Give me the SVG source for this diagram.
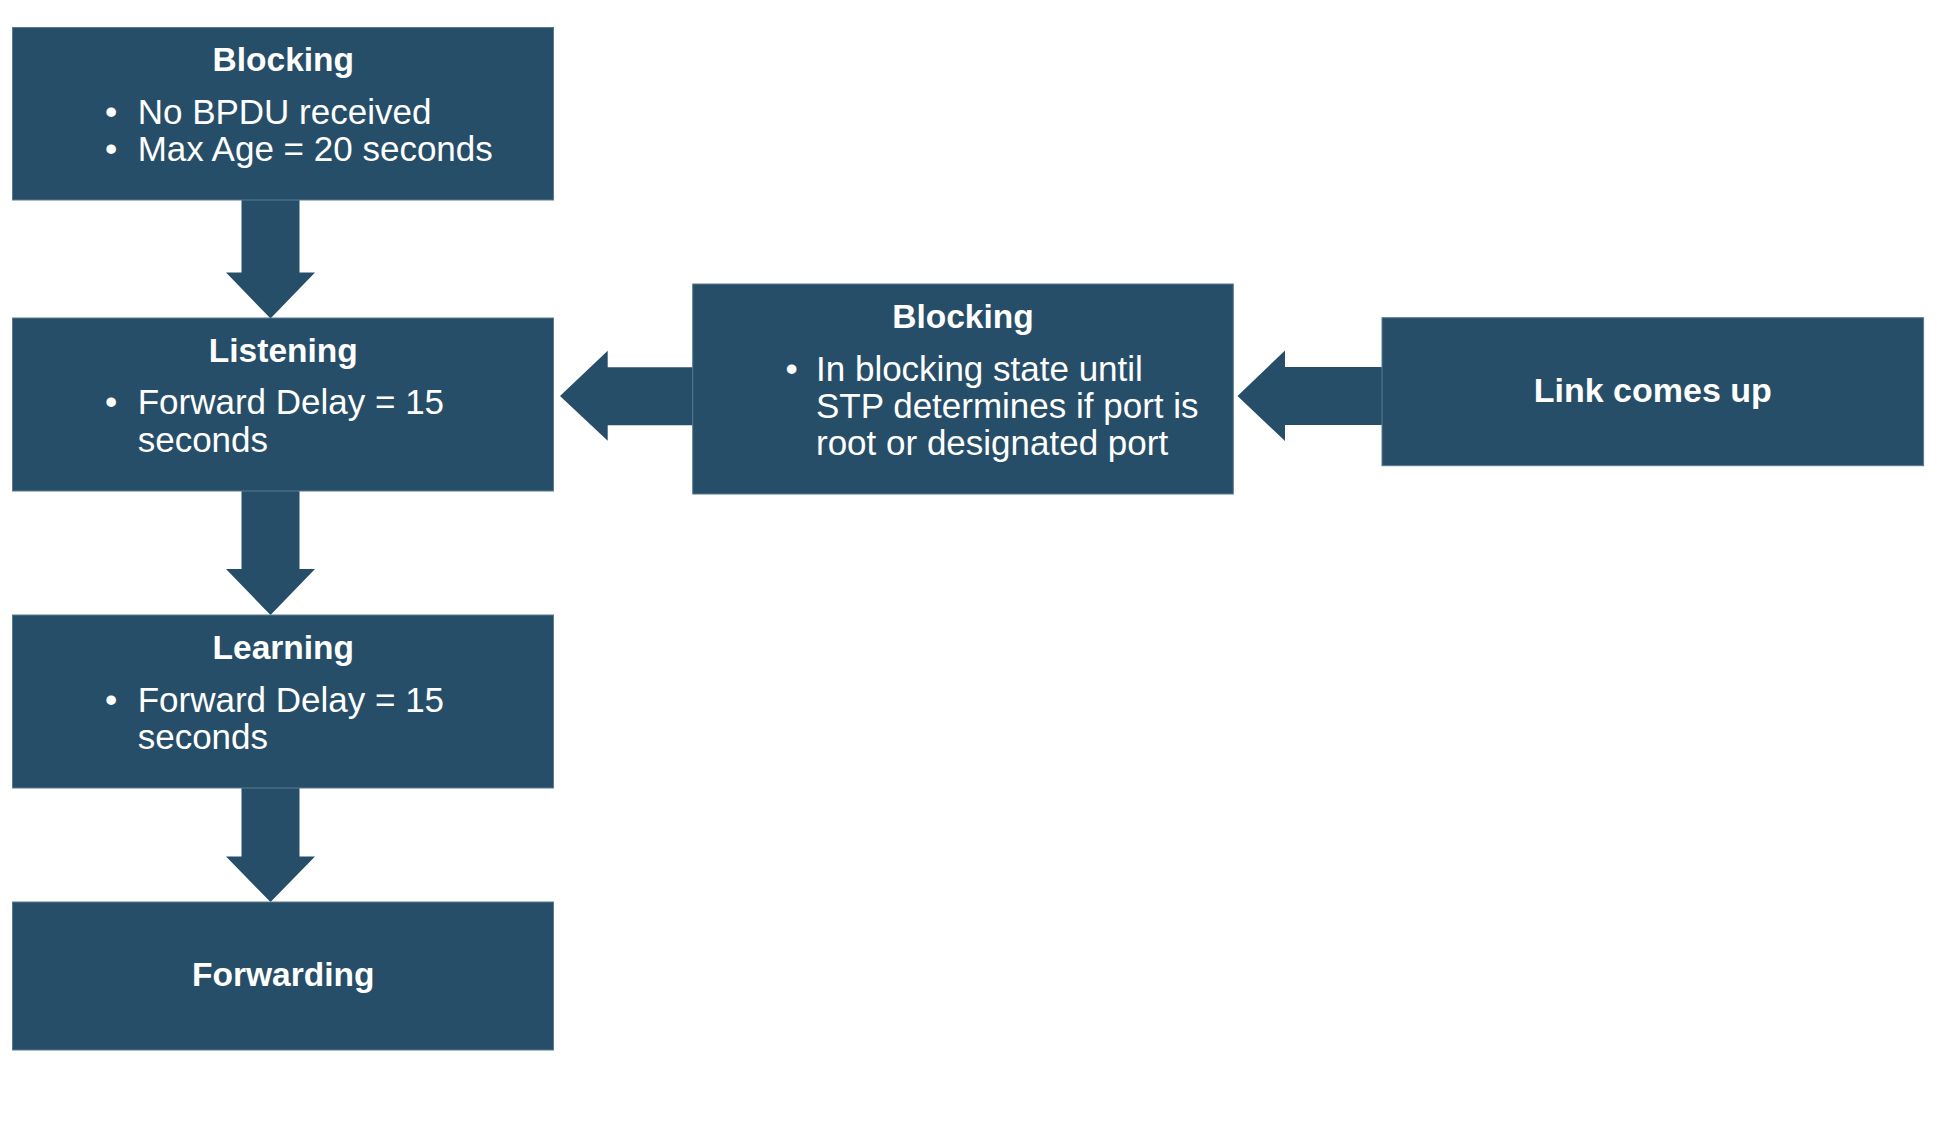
<svg xmlns="http://www.w3.org/2000/svg" width="1954" height="1132" viewBox="0 0 1954 1132">
<style>
.box{fill:#274E68;stroke:#5a7a8f;stroke-width:1}
.arrow{fill:#274E68}
.t{font-family:"Liberation Sans",Arial,sans-serif;font-weight:bold;font-size:33.5px;fill:#ffffff;text-anchor:middle}
.b{font-family:"Liberation Sans",Arial,sans-serif;font-size:35px;fill:#ffffff}
</style>
<rect x="0" y="0" width="1954" height="1132" fill="#ffffff"/>
<g id="connectors">
  <polygon class="arrow" points="241.5,199 299.5,199 299.5,272.5 315,272.5 270.5,318.5 226,272.5 241.5,272.5"/>
  <polygon class="arrow" points="241.5,490 299.5,490 299.5,569 315,569 270.5,615 226,569 241.5,569"/>
  <polygon class="arrow" points="241.5,787 299.5,787 299.5,856.5 315,856.5 270.5,902 226,856.5 241.5,856.5"/>
  <polygon class="arrow" points="693.5,367.3 607.7,367.3 607.7,350.7 560,396 607.7,440.7 607.7,425.3 693.5,425.3"/>
  <polygon class="arrow" points="1383,367 1285,367 1285,350.5 1237.5,396 1285,441 1285,425 1383,425"/>
</g>
<g id="node-blocking-1">
  <rect class="box" x="12.5" y="27.5" width="541" height="172.5"/>
  <text class="t" x="283.3" y="71">Blocking</text>
  <text class="b" y="124.3"><tspan x="105">•</tspan><tspan x="137.7">No BPDU received</tspan></text>
  <text class="b" y="161"><tspan x="105">•</tspan><tspan x="137.7">Max Age = 20 seconds</tspan></text>
</g>
<g id="node-listening">
  <rect class="box" x="12.5" y="318" width="541" height="173"/>
  <text class="t" x="283.3" y="362">Listening</text>
  <text class="b" y="414.3"><tspan x="105">•</tspan><tspan x="137.7">Forward Delay = 15</tspan></text>
  <text class="b" x="137.7" y="451.7">seconds</text>
</g>
<g id="node-learning">
  <rect class="box" x="12.5" y="615" width="541" height="173"/>
  <text class="t" x="283.3" y="659">Learning</text>
  <text class="b" y="711.5"><tspan x="105">•</tspan><tspan x="137.7">Forward Delay = 15</tspan></text>
  <text class="b" x="137.7" y="748.5">seconds</text>
</g>
<g id="node-forwarding">
  <rect class="box" x="12.5" y="902" width="541" height="148"/>
  <text class="t" x="283.3" y="986">Forwarding</text>
</g>
<g id="node-blocking-2">
  <rect class="box" x="692.7" y="284" width="540.6" height="210"/>
  <text class="t" x="963" y="328.3">Blocking</text>
  <text class="b" y="381"><tspan x="785.6">•</tspan><tspan x="816">In blocking state until</tspan></text>
  <text class="b" x="816" y="418">STP determines if port is</text>
  <text class="b" x="816" y="455">root or designated port</text>
</g>
<g id="node-link-up">
  <rect class="box" x="1382" y="317.7" width="541.6" height="148"/>
  <text class="t" x="1652.8" y="402.3" style="font-size:34px">Link comes up</text>
</g>
</svg>
